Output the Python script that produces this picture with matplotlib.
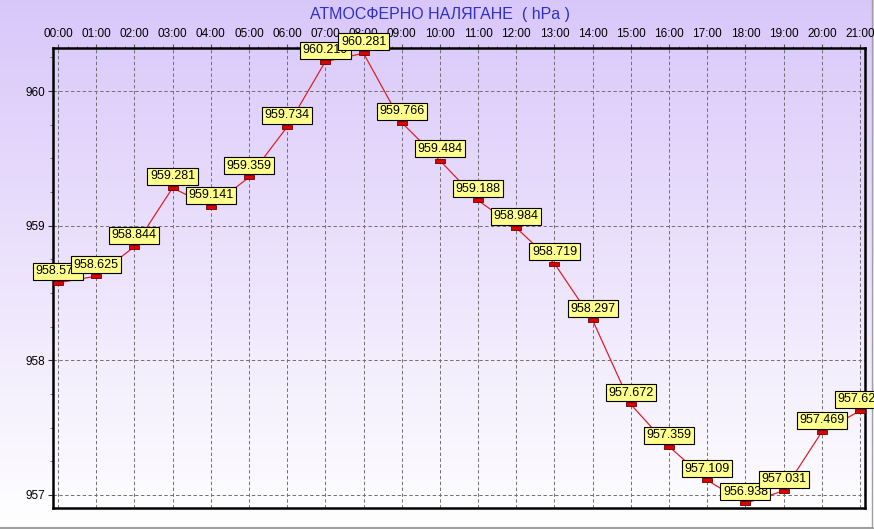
import matplotlib
matplotlib.use("Agg")
import matplotlib.pyplot as plt
import numpy as np
from matplotlib.ticker import MultipleLocator

hours = ["00:00", "01:00", "02:00", "03:00", "04:00", "05:00", "06:00", "07:00",
         "08:00", "09:00", "10:00", "11:00", "12:00", "13:00", "14:00", "15:00",
         "16:00", "17:00", "18:00", "19:00", "20:00", "21:00"]
pressure = [958.576, 958.625, 958.844, 959.281, 959.141, 959.359, 959.734, 960.219,
            960.281, 959.766, 959.484, 959.188, 958.984, 958.719, 958.297, 957.672,
            957.359, 957.109, 956.938, 957.031, 957.469, 957.625]
yticks = [957, 958, 959, 960]
title = "АТМОСФЕРНО НАЛЯГАНЕ  ( hPa )"

plt.rcParams['font.family'] = ['Liberation Sans', 'DejaVu Sans']

W, H = 874, 529
fig = plt.figure(figsize=(W / 100, H / 100), dpi=100)

# background gradient over whole figure
bg = fig.add_axes([0, 0, 1, 1], zorder=-10)
top = np.array([0.85, 0.78, 0.98])
bot = np.array([1.0, 1.0, 1.0])
t = np.linspace(0, 1, 256)[:, None]
grad = top * (1 - t) + bot * t
img = np.repeat(grad[:, None, :], 2, axis=1)
bg.imshow(img, aspect='auto', extent=[0, 1, 0, 1], origin='upper')
bg.set_xlim(0, 1); bg.set_ylim(0, 1)
bg.axis('off')
# window border lines
bg.plot([0, 1], [1.5 / H, 1.5 / H], color='#a0a0a0', lw=1.5)
bg.plot([1 - 2.5 / W, 1 - 2.5 / W], [0, 1], color='#a0a0a0', lw=1.0)

left, right, topp, bottom = 53, 865, 48, 508
ax = fig.add_axes([left / W, 1 - bottom / H, (right - left) / W, (bottom - topp) / H])
ax.patch.set_alpha(0)

x = np.arange(len(hours))
ax.plot(x, pressure, color='#e0202a', lw=0.9, zorder=3)
rect = [(-1, -0.5), (1, -0.5), (1, 0.5), (-1, 0.5), (-1, -0.5)]
ax.plot(x, pressure, linestyle='none', marker=rect, markersize=7,
        markerfacecolor='#dd0000', markeredgecolor='#700000', markeredgewidth=0.6, zorder=4)

for i, (xi, yi) in enumerate(zip(x, pressure)):
    ax.annotate(f"{yi:.3f}", (xi, yi), xytext=(0, 4), textcoords='offset points',
                ha='center', va='bottom', fontsize=9, color='black',
                bbox=dict(boxstyle='square,pad=0.2', fc='#ffff8c', ec='black', lw=0.8),
                annotation_clip=False, zorder=5 + i)

ax.set_xlim(-0.13, 21.13)
ax.set_ylim(956.903, 960.32)
ax.set_xticks(x)
ax.set_xticklabels(hours)
ax.set_yticks(yticks)
ax.set_yticklabels([str(v) for v in yticks])
ax.yaxis.set_minor_locator(MultipleLocator(0.25))
ax.xaxis.set_minor_locator(MultipleLocator(0.25))
ax.xaxis.tick_top()
ax.tick_params(axis='x', which='major', labelsize=8.5, length=3, width=0.8, color='#555555', pad=2.5)
ax.tick_params(axis='x', which='minor', length=1.5, width=0.6, color='#666666')
ax.tick_params(axis='y', which='major', labelsize=8.5, length=3.5, width=0.8, color='#333333', pad=2)
ax.tick_params(axis='y', which='minor', length=2, width=0.6, color='#666666')
ax.grid(True, which='major', color='#707070', linestyle=(0, (3.5, 2.5)), lw=0.7)
for s in ax.spines.values():
    s.set_linewidth(1.8)
    s.set_color('black')

fig.text(440 / W, 1 - 15 / H, title, ha='center', va='center', fontsize=11.5, color='#3030c8')

fig.savefig("out.png", dpi=100)
